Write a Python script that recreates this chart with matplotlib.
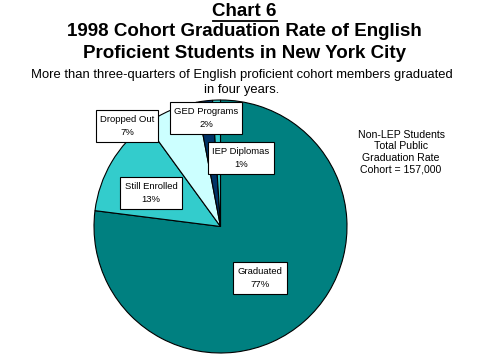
import matplotlib
matplotlib.use("Agg")
import matplotlib.pyplot as plt

categories = ["Graduated", "Still Enrolled", "Dropped Out", "GED Programs", "IEP Diplomas"]
values = [77, 13, 7, 2, 1]
colors = ["#008080", "#33CCCC", "#CCFFFF", "#003366", "#33CCCC"]

# label box centres in pixel coordinates (x from left, y from top)
label_pos = [(260, 278), (151, 193), (127, 126), (206, 118), (241, 158)]

W, H = 479, 359
fig = plt.figure(figsize=(W / 100, H / 100), dpi=100)
plt.rcParams['font.family'] = ['Liberation Sans', 'DejaVu Sans']

cx, cy, r = 220.5, 226.5, 126.5
ax = fig.add_axes([(cx - r) / W, (H - cy - r) / H, 2 * r / W, 2 * r / H])
ax.pie(values, colors=colors, startangle=90, counterclock=False, radius=1,
       wedgeprops=dict(edgecolor="black", linewidth=0.8))
ax.set_xlim(-1.0, 1.0)
ax.set_ylim(-1.0, 1.0)
ax.set_aspect("equal")
ax.axis("off")

def px(x, y):
    return x / W, 1 - y / H

for cat, v, (x, y) in zip(categories, values, label_pos):
    fx, fy = px(x, y)
    fig.text(fx, fy, f"{cat}\n{v}%", ha="center", va="center", fontsize=6.8,
             linespacing=1.7,
             bbox=dict(boxstyle="square,pad=0.45", facecolor="white",
                       edgecolor="black", linewidth=0.8))

fx, fy = px(401, 152)
fig.text(fx, fy, "Non-LEP Students\nTotal Public\nGraduation Rate\nCohort = 157,000",
         ha="center", va="center", fontsize=7.6, linespacing=1.2)

fx, fy = px(244, 11)
fig.text(fx, fy, "Chart 6", ha="center", va="center", fontsize=13.5,
         fontweight="bold")
# underline
fig.add_artist(plt.Line2D([213 / W, 277 / W], [1 - 20.5 / H, 1 - 20.5 / H],
                          color="black", linewidth=1.3))
fx, fy = px(244, 32)
fig.text(fx, fy, "1998 Cohort Graduation Rate of English", ha="center",
         va="center", fontsize=13.5, fontweight="bold")
fx, fy = px(244, 53)
fig.text(fx, fy, "Proficient Students in New York City", ha="center",
         va="center", fontsize=13.5, fontweight="bold")
fx, fy = px(242, 75)
fig.text(fx, fy, "More than three-quarters of English proficient cohort members graduated",
         ha="center", va="center", fontsize=9.4)
fx, fy = px(242, 90)
fig.text(fx, fy, "in four years.", ha="center", va="center", fontsize=9.4)

fig.savefig("out.png", dpi=100)
